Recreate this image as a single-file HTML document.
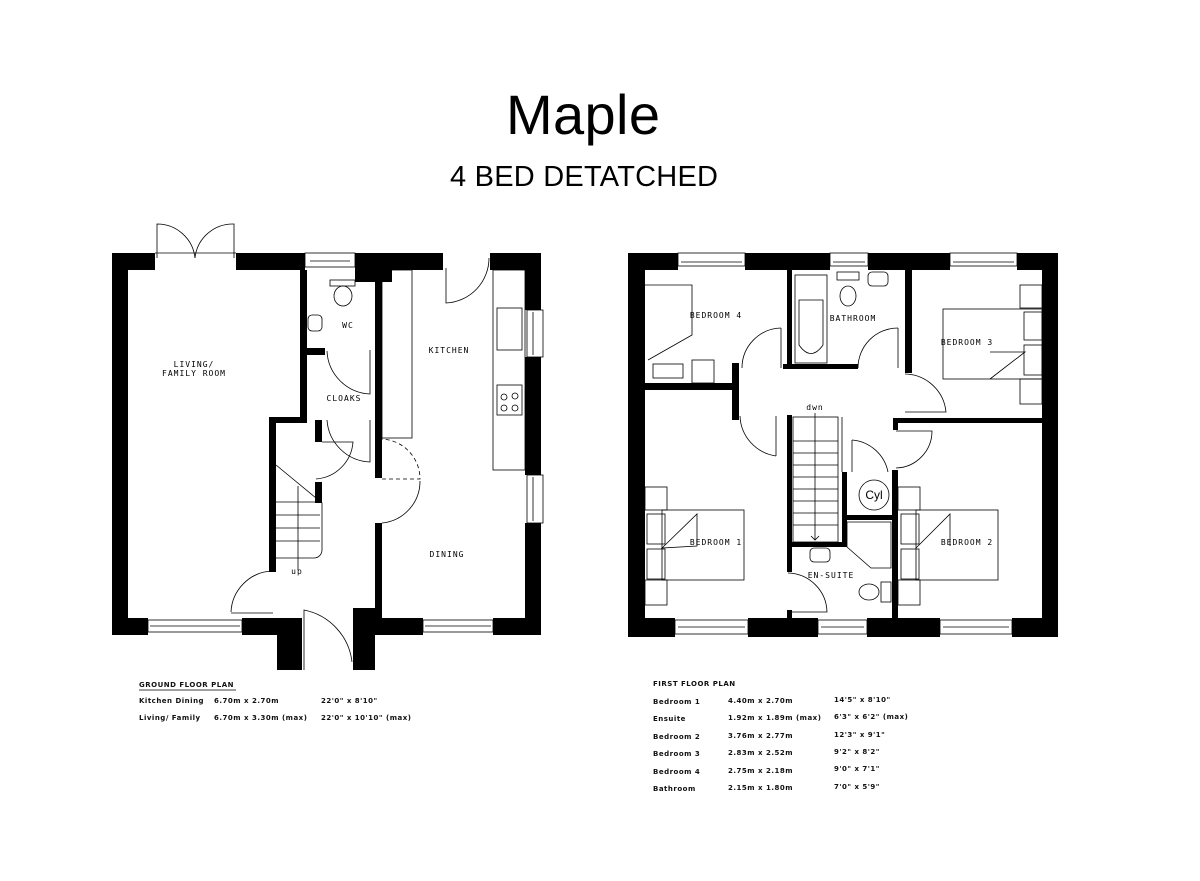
<!DOCTYPE html>
<html><head><meta charset="utf-8"><style>
html,body{margin:0;padding:0;background:#fff;}
svg{display:block;}
.t{font-family:"DejaVu Sans Mono","Liberation Mono",monospace;font-size:8px;letter-spacing:1px;fill:#000;}
.s{font-family:"DejaVu Sans","Liberation Sans",sans-serif;font-size:7px;font-weight:bold;letter-spacing:0.5px;fill:#111;}
</style></head><body>
<svg width="1200" height="881" viewBox="0 0 1200 881" xmlns="http://www.w3.org/2000/svg">
<rect width="1200" height="881" fill="#fff"/>
<text x="583" y="134" text-anchor="middle" font-family="Liberation Sans, sans-serif" font-size="56" textLength="154">Maple</text>
<text x="584" y="186" text-anchor="middle" font-family="Liberation Sans, sans-serif" font-size="29" textLength="268">4 BED DETATCHED</text>

<g fill="#000">
<rect x="112" y="253" width="16" height="382"/>
<rect x="112" y="253" width="43" height="17"/>
<rect x="236" y="253" width="69" height="17"/>
<rect x="355" y="253" width="88" height="17"/>
<rect x="355" y="253" width="37" height="29"/>
<rect x="490" y="253" width="51" height="17"/>
<rect x="525" y="253" width="16" height="57"/>
<rect x="525" y="357" width="16" height="118"/>
<rect x="525" y="523" width="16" height="112"/>
<rect x="112" y="618" width="36" height="17"/>
<rect x="242" y="618" width="60" height="17"/>
<rect x="277" y="618" width="25" height="52"/>
<rect x="353" y="608" width="22" height="62"/>
<rect x="375" y="618" width="48" height="17"/>
<rect x="493" y="618" width="48" height="17"/>
<rect x="300" y="270" width="7" height="153"/>
<rect x="269" y="417" width="38" height="6"/>
<rect x="269" y="417" width="7" height="155"/>
<rect x="375" y="270" width="7" height="208"/>
<rect x="375" y="523" width="7" height="95"/>
<rect x="307" y="348" width="18" height="7"/>
<rect x="315" y="420" width="7" height="22"/>
<rect x="315" y="482" width="7" height="21"/>

<rect x="628" y="253" width="17" height="384"/>
<rect x="628" y="253" width="50" height="17"/>
<rect x="745" y="253" width="85" height="17"/>
<rect x="868" y="253" width="82" height="17"/>
<rect x="1017" y="253" width="41" height="17"/>
<rect x="1042" y="253" width="16" height="384"/>
<rect x="628" y="618" width="47" height="19"/>
<rect x="748" y="618" width="70" height="19"/>
<rect x="867" y="618" width="73" height="19"/>
<rect x="1012" y="618" width="46" height="19"/>
<rect x="645" y="383" width="87" height="7"/>
<rect x="732" y="363" width="7" height="57"/>
<rect x="787" y="270" width="5" height="98"/>
<rect x="783" y="364" width="75" height="5"/>
<rect x="905" y="270" width="7" height="103"/>
<rect x="893" y="418" width="149" height="5"/>
<rect x="893" y="418" width="5" height="12"/>
<rect x="787" y="415" width="5" height="157"/>
<rect x="787" y="542" width="60" height="5"/>
<rect x="842" y="472" width="5" height="75"/>
<rect x="842" y="515" width="50" height="5"/>
<rect x="892" y="470" width="6" height="148"/>
<rect x="787" y="610" width="5" height="8"/>
</g>

<g fill="none" stroke="#000" stroke-width="0.8">
<rect x="148" y="620" width="94" height="12"/><line x1="150" y1="626" x2="240" y2="626"/>
<rect x="423" y="620" width="70" height="12"/><line x1="425" y1="626" x2="491" y2="626"/>
<rect x="305" y="253" width="50" height="14"/><line x1="310" y1="261" x2="350" y2="261"/>
<rect x="527" y="310" width="16" height="47"/><line x1="533" y1="312" x2="533" y2="355"/>
<rect x="527" y="475" width="16" height="48"/><line x1="533" y1="477" x2="533" y2="521"/>
<line x1="155" y1="253" x2="236" y2="253"/>
<path d="M157 258 V224 A38 38 0 0 1 195 258"/>
<path d="M234 258 V224 A38 38 0 0 0 195 258"/>
<path d="M446 268 V303 A45 45 0 0 0 489 258"/>
<ellipse cx="343" cy="296" rx="9" ry="10"/><rect x="330" y="280" width="25" height="6"/>
<rect x="308" y="315" width="14" height="16" rx="4"/>
<path d="M327 351 A45 45 0 0 0 370 394 V350"/>
<path d="M327 420 A45 45 0 0 0 370 462 V420"/>
<path d="M322 442 H353 A40 40 0 0 1 316 479"/>
<rect x="382" y="270" width="30" height="168"/>
<rect x="493" y="270" width="32" height="200"/>
<rect x="497" y="308" width="25" height="42"/>
<rect x="497" y="385" width="25" height="30"/>
<circle cx="504" cy="397" r="3"/><circle cx="515" cy="396" r="3"/><circle cx="504" cy="408" r="3"/><circle cx="515" cy="408" r="3"/>
<path d="M382 479 H420 A40 40 0 0 0 382 439" stroke-dasharray="4 3"/>
<path d="M382 523 A42 42 0 0 0 420 481"/>
<path d="M276 465 L322 503 V550 A8 8 0 0 1 314 558 H276"/>
<line x1="276" y1="502" x2="320" y2="502"/><line x1="276" y1="515" x2="320" y2="515"/><line x1="276" y1="528" x2="320" y2="528"/><line x1="276" y1="541" x2="320" y2="541"/>
<line x1="298" y1="570" x2="298" y2="486"/>
<path d="M231 612 A43 43 0 0 1 272 571"/><line x1="231" y1="613" x2="273" y2="613"/>
<path d="M304 670 V610 A60 60 0 0 1 352 662"/>

<rect x="678" y="253" width="67" height="13"/><line x1="681" y1="262" x2="742" y2="262"/>
<rect x="830" y="253" width="38" height="13"/><line x1="833" y1="262" x2="865" y2="262"/>
<rect x="950" y="253" width="67" height="13"/><line x1="953" y1="262" x2="1014" y2="262"/>
<rect x="675" y="620" width="73" height="14"/><line x1="678" y1="627" x2="745" y2="627"/>
<rect x="818" y="620" width="49" height="14"/><line x1="821" y1="627" x2="864" y2="627"/>
<rect x="940" y="620" width="72" height="14"/><line x1="943" y1="627" x2="1009" y2="627"/>
<path d="M645 285 H692 V335 L648 360"/><rect x="653" y="364" width="30" height="14"/><rect x="692" y="360" width="22" height="23"/>
<rect x="795" y="275" width="32" height="88"/><path d="M799 300 V345 Q811 362 823 345 V300 Z"/>
<ellipse cx="848" cy="296" rx="8" ry="10"/><rect x="837" y="272" width="22" height="8"/>
<rect x="868" y="272" width="20" height="14" rx="4"/>
<rect x="943" y="309" width="99" height="70"/><path d="M990 379 L1025 352 H990"/><rect x="1020" y="285" width="22" height="23"/><rect x="1020" y="379" width="22" height="25"/><rect x="1024" y="312" width="18" height="28"/><rect x="1024" y="345" width="18" height="30"/>
<rect x="662" y="510" width="82" height="70"/><path d="M662 548 L697 514 V546 Z"/><rect x="645" y="487" width="22" height="23"/><rect x="645" y="580" width="22" height="25"/><rect x="647" y="514" width="18" height="30"/><rect x="647" y="549" width="18" height="30"/>
<rect x="916" y="510" width="82" height="70"/><path d="M916 548 L950 514 V546"/><rect x="898" y="487" width="22" height="23"/><rect x="898" y="580" width="22" height="25"/><rect x="901" y="514" width="18" height="30"/><rect x="901" y="549" width="18" height="30"/>
<path d="M781 328 A40 40 0 0 0 742 368"/><line x1="781" y1="328" x2="781" y2="368"/>
<path d="M898 328 A40 40 0 0 0 858 368"/><line x1="898" y1="328" x2="898" y2="368"/>
<path d="M740 416 A42 42 0 0 0 776 456"/><line x1="776" y1="416" x2="776" y2="456"/>
<path d="M905 374 A42 42 0 0 1 946 412 H905"/>
<path d="M896 431 H932 A37 37 0 0 1 896 468"/>
<path d="M852 440 A40 40 0 0 1 888 472"/><line x1="852" y1="440" x2="852" y2="472"/>
<path d="M788 573 A40 40 0 0 1 827 612 H790"/>
<rect x="793" y="417" width="45" height="125"/>
<line x1="842" y1="417" x2="842" y2="472"/>
<line x1="793" y1="441" x2="838" y2="441"/><line x1="793" y1="453" x2="838" y2="453"/><line x1="793" y1="465" x2="838" y2="465"/><line x1="793" y1="477" x2="838" y2="477"/><line x1="793" y1="489" x2="838" y2="489"/><line x1="793" y1="501" x2="838" y2="501"/><line x1="793" y1="513" x2="838" y2="513"/><line x1="793" y1="525" x2="838" y2="525"/>
<line x1="815" y1="413" x2="815" y2="540"/><path d="M811 536 L815 540 L819 536"/>
<circle cx="874" cy="495" r="15"/>
<path d="M847 522 H891 V568 H871 L847 547 Z"/>
<rect x="810" y="548" width="20" height="14" rx="4"/>
<ellipse cx="869" cy="592" rx="10" ry="8"/><rect x="881" y="582" width="10" height="20"/>
</g>

<g class="t">
<text x="194" y="367" text-anchor="middle">LIVING/</text>
<text x="194" y="376" text-anchor="middle">FAMILY ROOM</text>
<text x="348" y="328" text-anchor="middle">WC</text>
<text x="344" y="401" text-anchor="middle">CLOAKS</text>
<text x="449" y="353" text-anchor="middle">KITCHEN</text>
<text x="447" y="557" text-anchor="middle">DINING</text>
<text x="297" y="574" text-anchor="middle">up</text>
<text x="716" y="318" text-anchor="middle">BEDROOM 4</text>
<text x="853" y="321" text-anchor="middle">BATHROOM</text>
<text x="967" y="345" text-anchor="middle">BEDROOM 3</text>
<text x="716" y="545" text-anchor="middle">BEDROOM 1</text>
<text x="967" y="545" text-anchor="middle">BEDROOM 2</text>
<text x="831" y="578" text-anchor="middle">EN-SUITE</text>
<text x="815" y="410" text-anchor="middle">dwn</text>
<text x="874" y="499" text-anchor="middle" font-family="Liberation Sans, sans-serif" font-size="12" letter-spacing="0">Cyl</text>
</g>

<g class="s">
<text x="139" y="687">GROUND FLOOR PLAN</text>
<line x1="139" y1="690" x2="236" y2="690" stroke="#000" stroke-width="0.8"/>
<text x="139" y="703">Kitchen Dining</text><text x="214" y="703">6.70m x 2.70m</text><text x="321" y="703">22'0" x 8'10"</text>
<text x="139" y="720">Living/ Family</text><text x="214" y="720">6.70m x 3.30m (max)</text><text x="321" y="720">22'0" x 10'10" (max)</text>

<text x="653" y="686">FIRST FLOOR PLAN</text>
<text x="653" y="704">Bedroom 1</text><text x="728" y="703">4.40m x 2.70m</text><text x="834" y="702">14'5" x 8'10"</text>
<text x="653" y="721">Ensuite</text><text x="728" y="720">1.92m x 1.89m (max)</text><text x="834" y="719">6'3" x 6'2" (max)</text>
<text x="653" y="739">Bedroom 2</text><text x="728" y="738">3.76m x 2.77m</text><text x="834" y="737">12'3" x 9'1"</text>
<text x="653" y="756">Bedroom 3</text><text x="728" y="755">2.83m x 2.52m</text><text x="834" y="754">9'2" x 8'2"</text>
<text x="653" y="774">Bedroom 4</text><text x="728" y="773">2.75m x 2.18m</text><text x="834" y="771">9'0" x 7'1"</text>
<text x="653" y="791">Bathroom</text><text x="728" y="790">2.15m x 1.80m</text><text x="834" y="789">7'0" x 5'9"</text>
</g>
</svg>
</body></html>
